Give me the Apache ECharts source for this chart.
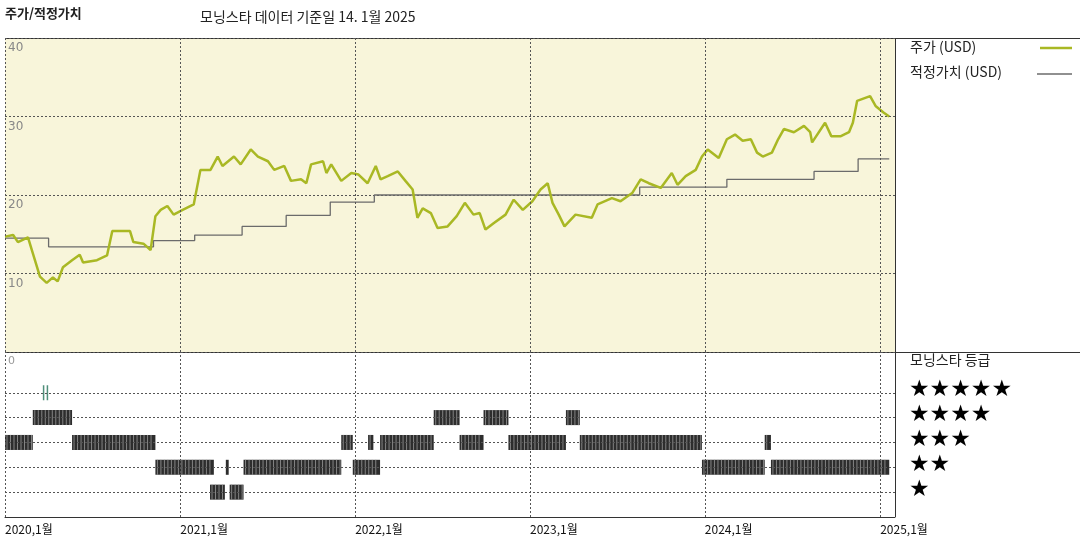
<!DOCTYPE html>
<html><head><meta charset="utf-8">
<script src="https://cdn.jsdelivr.net/npm/echarts@6/dist/echarts.min.js"></script>
<style>html,body{margin:0;padding:0;background:#fff}#c{width:1080px;height:540px}</style>
</head><body><div id="c"></div>
<script>
const priceDates = ['2020-01-01','2020-01-18','2020-01-28','2020-02-18','2020-02-28','2020-03-14','2020-03-28','2020-04-10','2020-04-20','2020-05-01','2020-05-20','2020-06-05','2020-06-12','2020-07-11','2020-08-01','2020-08-12','2020-09-18','2020-09-25','2020-10-16','2020-10-31','2020-11-10','2020-11-21','2020-12-05','2020-12-18','2021-01-06','2021-01-29','2021-02-12','2021-03-05','2021-03-20','2021-03-30','2021-04-23','2021-05-07','2021-05-28','2021-06-12','2021-07-03','2021-07-16','2021-08-06','2021-08-20','2021-09-10','2021-09-21','2021-10-01','2021-10-26','2021-11-02','2021-11-12','2021-12-03','2021-12-24','2022-01-08','2022-01-27','2022-02-13','2022-02-23','2022-03-10','2022-03-31','2022-04-16','2022-05-01','2022-05-11','2022-05-22','2022-06-08','2022-06-22','2022-07-13','2022-08-01','2022-08-18','2022-09-05','2022-09-18','2022-09-30','2022-10-17','2022-11-11','2022-11-28','2022-12-17','2023-01-06','2023-01-23','2023-02-07','2023-02-17','2023-03-02','2023-03-14','2023-04-06','2023-05-10','2023-05-22','2023-06-21','2023-07-09','2023-08-03','2023-08-20','2023-09-06','2023-10-01','2023-10-24','2023-11-05','2023-11-22','2023-12-13','2023-12-26','2024-01-07','2024-01-30','2024-02-16','2024-03-04','2024-03-20','2024-04-06','2024-04-19','2024-05-01','2024-05-20','2024-06-02','2024-06-14','2024-07-05','2024-07-26','2024-08-08','2024-08-12','2024-09-08','2024-09-21','2024-10-11','2024-10-28','2024-11-05','2024-11-14','2024-12-11','2024-12-23','2025-01-08','2025-01-20'];
const priceValues = [14.7,14.9,14.0,14.6,12.6,9.6,8.8,9.5,9.0,10.8,11.7,12.4,11.4,11.7,12.3,15.4,15.4,14.0,13.8,13.0,17.3,18.1,18.6,17.5,18.1,18.8,23.2,23.2,24.9,23.7,24.9,23.9,25.8,24.9,24.3,23.2,23.7,21.8,22.0,21.5,23.9,24.3,22.8,23.9,21.8,22.8,22.6,21.5,23.7,22.0,22.4,23.0,21.8,20.7,17.1,18.3,17.7,15.8,16.0,17.3,19.0,17.5,17.7,15.6,16.4,17.5,19.4,18.1,19.2,20.7,21.5,19.0,17.5,16.0,17.5,17.1,18.8,19.6,19.2,20.3,22.0,21.5,20.9,22.8,21.3,22.4,23.2,24.9,25.8,24.7,27.1,27.7,26.9,27.1,25.4,24.9,25.4,27.1,28.4,28.0,28.8,28.0,26.7,29.2,27.5,27.5,28.0,29.2,32.0,32.6,31.3,30.5,30.0];
const fairDates = ['2020-01-01','2020-04-01','2020-11-06','2021-01-31','2021-05-10','2021-08-10','2021-11-10','2022-02-10','2023-08-18','2024-02-16','2024-08-16','2024-11-16','2025-01-20'];
const fairValues = [14.5,13.4,14.2,14.9,16.0,17.4,19.1,20.0,21.0,22.0,23.0,24.6,24.6];
const ratingStarts = ['2020-03-20','2020-03-28','2020-02-28','2022-06-14','2022-09-26','2023-03-17','2020-01-01','2020-05-20','2021-12-03','2022-01-28','2022-02-22','2022-08-07','2022-11-17','2023-04-15','2024-05-05','2020-11-10','2021-04-06','2021-05-13','2021-12-27','2023-12-26','2024-05-18','2021-03-04','2021-04-14'];
const ratingEnds   = ['2020-03-21','2020-03-29','2020-05-20','2022-08-07','2022-11-17','2023-04-15','2020-02-28','2020-11-10','2021-12-27','2022-02-08','2022-06-14','2022-09-26','2023-03-17','2023-12-26','2024-05-18','2021-03-12','2021-04-12','2021-12-03','2022-02-22','2024-05-05','2025-01-20','2021-04-04','2021-05-13'];
const ratingStars  = [5,5,4,4,4,4,3,3,3,3,3,3,3,3,3,2,2,2,2,2,2,1,1];
const yearDates = ['2020-01-01','2021-01-01','2022-01-01','2023-01-01','2024-01-01','2025-01-01'];
const yearLabels = ['2020,1월','2021,1월','2022,1월','2023,1월','2024,1월','2025,1월'];
const priceTicks = [10,20,30,40];

const chart = echarts.init(document.getElementById('c'));
const X0 = '2020-01-01', X1 = '2025-02-01';
const dash = {type:[2,2], color:'#555', width:1};
const priceData = priceDates.map((d,i)=>[d,priceValues[i]]);
const fairData = fairDates.map((d,i)=>[d,fairValues[i]]);
const ratingData = ratingStarts.map((s,i)=>[s,ratingEnds[i],ratingStars[i]]);

chart.setOption({
  animation:false,
  textStyle:{fontFamily:'"Noto Sans CJK KR", sans-serif'},
  grid:[
    {left:5,top:38,width:890,height:314,backgroundColor:'#f8f5da',show:true,borderWidth:0},
    {left:5,top:352,width:890,height:165,show:false}
  ],
  xAxis:[
    {gridIndex:0,type:'time',min:X0,max:X1,axisLine:{show:false},axisTick:{show:false},axisLabel:{show:false},splitLine:{show:false}},
    {gridIndex:1,type:'time',min:X0,max:X1,axisLine:{show:true,lineStyle:{color:'#333'}},axisTick:{show:false},axisLabel:{show:false},splitLine:{show:false}}
  ],
  yAxis:[
    {gridIndex:0,type:'value',min:0,max:40,interval:10,axisLine:{show:false},axisTick:{show:false},
     axisLabel:{inside:true,verticalAlign:'top',color:'#888',fontSize:12,fontFamily:'DejaVu Sans',margin:3,padding:[4,0,0,0],formatter:v=>priceTicks.includes(v)?String(v):''},
     splitLine:{show:true,lineStyle:dash}},
    {gridIndex:1,type:'value',min:0,max:6.64,axisLine:{show:false},axisTick:{show:false},axisLabel:{show:false},splitLine:{show:false}}
  ],
  series:[
    {type:'line',name:'fair',xAxisIndex:0,yAxisIndex:0,data:fairData,step:'end',symbol:'none',
     lineStyle:{color:'#6b6b6b',width:1.3},z:3,
     markLine:{silent:true,symbol:'none',label:{show:false},lineStyle:dash,data:yearDates.map(d=>({xAxis:d}))}},
    {type:'line',name:'price',xAxisIndex:0,yAxisIndex:0,data:priceData,symbol:'none',
     lineStyle:{color:'#a9b824',width:2.5},z:4},
    {type:'custom',xAxisIndex:1,yAxisIndex:1,data:ratingData,z:4,
     renderItem:function(params,api){
       const r=api.value(2);
       const a=api.coord([api.value(0),r]), b=api.coord([api.value(1),r]);
       const h=15, children=[];
       if(r===5){
         children.push({type:'rect',shape:{x:a[0],y:a[1]-h/2,width:Math.max(1.5,b[0]-a[0]),height:h},style:{fill:'#4f8f7a'}});
       } else {
         children.push({type:'rect',shape:{x:a[0],y:a[1]-h/2,width:b[0]-a[0],height:h},style:{fill:'#2d2d2d'}});
         for(let x=a[0]+2;x<b[0]-1;x+=3.5){
           children.push({type:'line',shape:{x1:x,y1:a[1]-h/2,x2:x,y2:a[1]+h/2},style:{stroke:'#9a9a9a',lineWidth:0.8}});
         }
       }
       return {type:'group',children:children};
     },
     encode:{x:[0,1],y:2}},
    {type:'line',xAxisIndex:1,yAxisIndex:1,data:[],
     markLine:{silent:true,symbol:'none',lineStyle:dash,
       data:yearDates.map((d,i)=>({xAxis:d,label:{show:true,position:'start',formatter:yearLabels[i],align:'left',color:'#111',fontSize:12,distance:[0,6]}}))
        .concat([1,2,3,4,5].map(v=>({yAxis:v,label:{show:false}})))}}
  ],
  graphic:[
    {type:'text',left:5,top:7,style:{text:'주가/적정가치',font:'bold 13px "Noto Sans CJK KR"',fill:'#222'}},
    {type:'text',left:200,top:10,style:{text:'모닝스타 데이터 기준일 14. 1월 2025',font:'14px "Noto Sans CJK KR"',fill:'#222'}},
    {type:'line',shape:{x1:5,y1:38.5,x2:1080,y2:38.5},style:{stroke:'#333',lineWidth:1}},
    {type:'line',shape:{x1:5,y1:352.5,x2:1080,y2:352.5},style:{stroke:'#333',lineWidth:1}},
    {type:'line',shape:{x1:895.5,y1:38,x2:895.5,y2:517},style:{stroke:'#333',lineWidth:1}},
    {type:'text',left:910,top:40,style:{text:'주가 (USD)',font:'14px "Noto Sans CJK KR"',fill:'#222'}},
    {type:'line',shape:{x1:1040,y1:48,x2:1072,y2:48},style:{stroke:'#a9b824',lineWidth:2.5}},
    {type:'text',left:910,top:65,style:{text:'적정가치 (USD)',font:'14px "Noto Sans CJK KR"',fill:'#222'}},
    {type:'line',shape:{x1:1037,y1:74,x2:1072,y2:74},style:{stroke:'#6b6b6b',lineWidth:1.3}},
    {type:'text',left:8,top:356,style:{text:'0',font:'11px "DejaVu Sans"',fill:'#999'}},
    {type:'text',left:910,top:353,style:{text:'모닝스타 등급',font:'14px "Noto Sans CJK KR"',fill:'#222'}},
    {type:'text',left:909,top:379,style:{text:'★★★★★',font:'23px "DejaVu Sans"',fill:'#000'}},
    {type:'text',left:909,top:404,style:{text:'★★★★',font:'23px "DejaVu Sans"',fill:'#000'}},
    {type:'text',left:909,top:429,style:{text:'★★★',font:'23px "DejaVu Sans"',fill:'#000'}},
    {type:'text',left:909,top:454,style:{text:'★★',font:'23px "DejaVu Sans"',fill:'#000'}},
    {type:'text',left:909,top:479,style:{text:'★',font:'23px "DejaVu Sans"',fill:'#000'}}
  ]
});
</script></body></html>
